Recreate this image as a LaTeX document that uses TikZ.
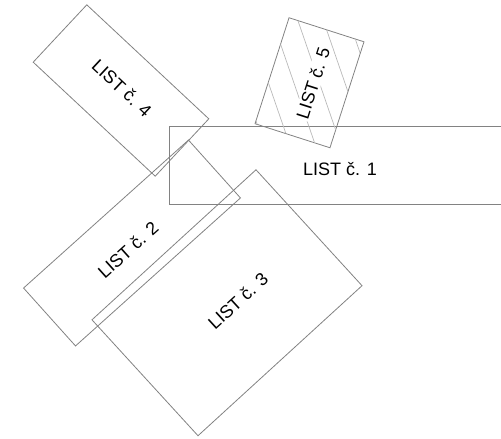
\documentclass[tikz,border=0pt]{standalone}
\usepackage{fontspec}
\setmainfont{Liberation Sans}
\definecolor{sheetgray}{RGB}{130,130,130}
\definecolor{hatchgray}{RGB}{185,185,185}

\begin{document}
\begin{tikzpicture}[
    x=1pt, y=-1pt,
    sheet/.style={draw=sheetgray, line width=0.8pt, rectangle, inner sep=0pt, outer sep=0pt},
    lbl/.style={font=\fontsize{18}{21}\selectfont, inner sep=1.5pt},
    hatch/.style={draw=hatchgray, line width=0.7pt}]
  \clip (0,0) rectangle (501,439);
  \node[sheet, minimum width=341, minimum height=78] (s1) at (339.5,165) {};
  \node[sheet, minimum width=221.6, minimum height=77.8, rotate=41.9] (s2) at (132,243) {};
  \node[sheet, minimum width=222.3, minimum height=157.1, rotate=42.45] (s3) at (227,302.75) {};
  \node[sheet, minimum width=167, minimum height=78.5, rotate=-43.06] (s4) at (121,90.5) {};
  \node[sheet, minimum width=111.3, minimum height=78.7, rotate=72.2] (s5) at (309.5,82.75) {};
  % hatching of sheet 5
  \begin{scope}
    \clip (s5.north west) -- (s5.north east) -- (s5.south east) -- (s5.south west) -- cycle;
    \foreach \hx in {219.5,245,...,372.5}
      \draw[hatch] (\hx-20,-43) -- (\hx+60,189);
  \end{scope}
  \node[lbl] (l1) at (340,169) {LIST č. 1};
  \node[lbl, rotate=41.9] (l2) at (128,250) {LIST č. 2};
  \node[lbl, rotate=42.45] (l3) at (238,301) {LIST č. 3};
  \node[lbl, rotate=-43.06] (l4) at (122,88) {LIST č. 4};
  \node[lbl, rotate=72.2, fill=white] (l5) at (313,83) {LIST č. 5};
\end{tikzpicture}
\end{document}
